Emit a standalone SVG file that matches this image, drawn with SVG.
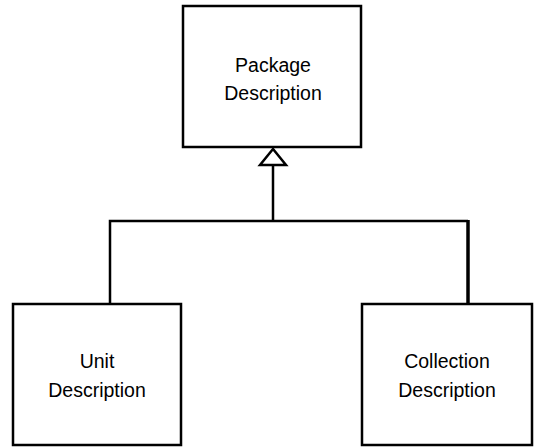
<svg xmlns="http://www.w3.org/2000/svg" width="540" height="447" viewBox="0 0 540 447">
<style>
.box{fill:#fff;stroke:#000;stroke-width:2.5}
.lbl{font-family:"Liberation Sans",Arial,sans-serif;font-size:19.5px;fill:#000;text-anchor:middle}
.conn{fill:none;stroke:#000;stroke-width:2.5}
</style>
<rect width="540" height="447" fill="#fff"/>
<g id="connectors">
<polyline class="conn" points="110,304 110,221 468,221"/>
<line x1="468" y1="220" x2="468" y2="304" stroke="#000" stroke-width="3.5"/>
<line class="conn" x1="273" y1="221" x2="273" y2="165"/>
<polygon points="273,149 260,165 286,165" fill="#fff" stroke="#000" stroke-width="2.5"/>
</g>
<g id="package">
<rect class="box" x="183" y="6" width="178" height="141"/>
<text class="lbl" x="273" y="72">Package</text>
<text class="lbl" x="273" y="100">Description</text>
</g>
<g id="unit">
<rect class="box" x="13" y="304" width="168" height="141"/>
<text class="lbl" x="97" y="368">Unit</text>
<text class="lbl" x="97" y="397">Description</text>
</g>
<g id="collection">
<rect class="box" x="362" y="304" width="170" height="141"/>
<text class="lbl" x="447" y="368">Collection</text>
<text class="lbl" x="447" y="397">Description</text>
</g>
</svg>
